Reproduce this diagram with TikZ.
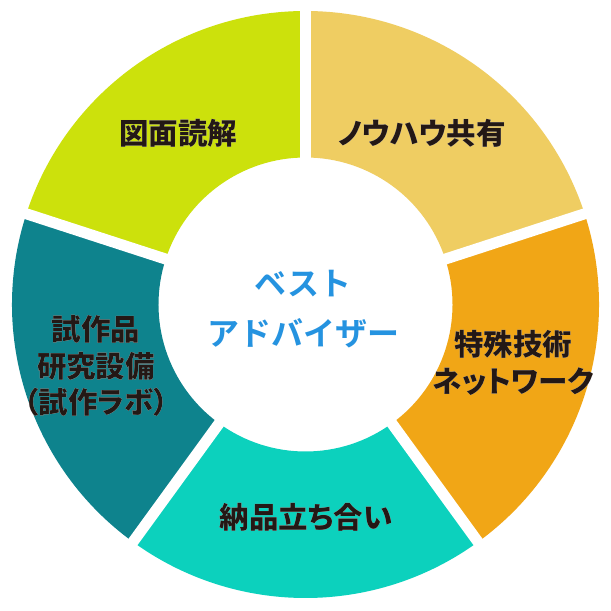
\documentclass[tikz,border=0pt]{standalone}
\usepackage{fontspec}
\usepackage[outline]{contour}
\newfontfamily\jpb{Noto Sans CJK JP Bold}
\newfontfamily\jpbp{Noto Sans CJK JP Black}[RawFeature=+palt]
\contourlength{3pt}
\contournumber{32}
\definecolor{cLime}{HTML}{CCE10C}
\definecolor{cYellow}{HTML}{EFCD62}
\definecolor{cOrange}{HTML}{F1A616}
\definecolor{cTeal}{HTML}{0CD1BD}
\definecolor{cDark}{HTML}{0E838D}
\definecolor{cBlue}{HTML}{2593E0}
\definecolor{cText}{HTML}{231815}
\newcommand{\seg}[3]{%
  \fill[#1] (#2:293.5) arc[start angle=#2,end angle=#3,radius=293.5]
    -- (#3:147) arc[start angle=#3,end angle=#2,radius=147] -- cycle;}
\tikzset{
  lbl/.style={text=cText,font={\jpbp\fontsize{29.5}{36.5}\selectfont},align=center,inner sep=0pt},
  ctr/.style={text=cBlue,font={\jpb\fontsize{32}{50}\selectfont},align=center,inner sep=0pt},
  gap/.style={white,line width=11pt}
}
\begin{document}
\begin{tikzpicture}[x=1pt,y=1pt]
\useasboundingbox[fill=white] (0,0) rectangle (611,611);
\begin{scope}[shift={(305.5,306.5)}]
  \seg{cYellow}{18}{90}
  \seg{cLime}{90}{162}
  \seg{cDark}{162}{234}
  \seg{cTeal}{234}{306}
  \seg{cOrange}{306}{378}
  \foreach \a in {18,90,162,234,306}
    \draw[gap] (\a:130) -- (\a:310);
\end{scope}
\node[ctr] (center) at (303,302) {ベスト\\アドバイザー};
\node[lbl] (zumen) at (178,478) {\contour{white}{図面読解}};
\node[lbl] (knowhow) at (422,478) {\contour{white}{ノウハウ共有}};
\node[lbl] (tokushu) at (513,248) {\contour{white}{特殊技術}\\\contour{white}{ネットワーク}};
\node[lbl] (nohin) at (306,94) {\contour{white}{納品立ち合い}};
\node[lbl] (shisaku) at (96,245) {\contour{white}{試作品}\\\contour{white}{研究設備}\\\contour{white}{（試作ラボ）}};
\end{tikzpicture}
\end{document}
